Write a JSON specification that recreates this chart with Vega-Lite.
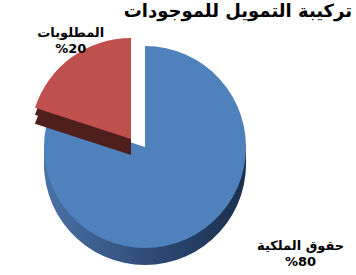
{
  "$schema": "https://vega.github.io/schema/vega-lite/v6.json",
  "autosize": "none",
  "width": 290,
  "height": 230,
  "padding": {"top": 32, "left": 0, "right": 66, "bottom": 13},
  "background": "white",
  "config": {"view": {"stroke": null}, "font": "DejaVu Sans"},
  "title": {
    "text": "تركيبة التمويل للموجودات",
    "anchor": "end",
    "frame": "group",
    "dx": 62,
    "offset": 5,
    "fontSize": 18,
    "fontWeight": "bold",
    "font": "DejaVu Sans",
    "color": "#000000"
  },
  "data": {
    "values": [
      {"category": "حقوق الملكية", "value": 80},
      {"category": "المطلوبات", "value": 20}
    ]
  },
  "transform": [
    {"calculate": "datum.category + '\\n%' + datum.value", "as": "labelText"}
  ],
  "encoding": {
    "theta": {"field": "value", "type": "quantitative", "stack": true},
    "order": {"field": "value", "type": "quantitative", "sort": "descending"}
  },
  "layer": [
    {
      "mark": {"type": "arc", "radius": 101, "yOffset": 17, "stroke": null,
        "color": {"gradient": "linear", "x1": 0, "y1": 0, "x2": 1, "y2": 0,
          "stops": [{"offset": 0, "color": "#4a72a6"}, {"offset": 0.6, "color": "#2b4670"}, {"offset": 1, "color": "#1c2f4c"}]}},
      "encoding": {"opacity": {"condition": {"test": "datum.category === 'حقوق الملكية'", "value": 1}, "value": 0}}
    },
    {
      "mark": {"type": "arc", "radius": 101, "yOffset": 9, "stroke": null,
        "color": {"gradient": "linear", "x1": 0, "y1": 0, "x2": 1, "y2": 0,
          "stops": [{"offset": 0, "color": "#4a72a6"}, {"offset": 0.6, "color": "#2b4670"}, {"offset": 1, "color": "#1c2f4c"}]}},
      "encoding": {"opacity": {"condition": {"test": "datum.category === 'حقوق الملكية'", "value": 1}, "value": 0}}
    },
    {
      "mark": {"type": "arc", "radius": 101, "stroke": null, "color": "#4f81bd"},
      "encoding": {"opacity": {"condition": {"test": "datum.category === 'حقوق الملكية'", "value": 1}, "value": 0}}
    },
    {
      "mark": {"type": "arc", "radius": 101, "xOffset": -14, "yOffset": 8, "stroke": null, "color": "#4f1f1e"},
      "encoding": {"opacity": {"condition": {"test": "datum.category === 'المطلوبات'", "value": 1}, "value": 0}}
    },
    {
      "mark": {"type": "arc", "radius": 101, "xOffset": -14, "yOffset": -1, "stroke": null, "color": "#4f1f1e"},
      "encoding": {"opacity": {"condition": {"test": "datum.category === 'المطلوبات'", "value": 1}, "value": 0}}
    },
    {
      "mark": {"type": "arc", "radius": 101, "xOffset": -14, "yOffset": -8, "stroke": null, "color": "#c0504d"},
      "encoding": {"opacity": {"condition": {"test": "datum.category === 'المطلوبات'", "value": 1}, "value": 0}}
    },
    {
      "mark": {"type": "text", "radius": 140, "dx": 8, "dy": -1, "fontSize": 13, "fontWeight": "bold", "lineBreak": "\n", "lineHeight": 16, "color": "#000000", "align": "center", "baseline": "middle"},
      "encoding": {
        "text": {"field": "labelText"},
        "opacity": {"condition": {"test": "datum.category === 'المطلوبات'", "value": 1}, "value": 0}
      }
    },
    {
      "mark": {"type": "text", "radius": 132, "dx": 78, "dy": -8, "fontSize": 13, "fontWeight": "bold", "lineBreak": "\n", "lineHeight": 16, "color": "#000000", "align": "center", "baseline": "middle"},
      "encoding": {
        "text": {"field": "labelText"},
        "opacity": {"condition": {"test": "datum.category === 'حقوق الملكية'", "value": 1}, "value": 0}
      }
    }
  ]
}
